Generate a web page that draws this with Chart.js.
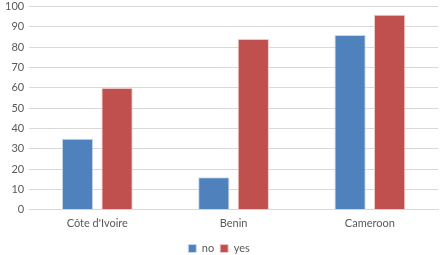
<!DOCTYPE html>
<html><head><meta charset="utf-8">
<script src="https://cdn.jsdelivr.net/npm/chart.js@4"></script>
<style>html,body{margin:0;padding:0;background:#fff;overflow:hidden}canvas{display:block;margin-top:-5px}</style>
</head><body>
<canvas id="c" width="440" height="269"></canvas>
<script>
const categories = ["Côte d'Ivoire", "Benin", "Cameroon"];
const noValues = [35, 16, 86];
const yesValues = [60, 84, 96];
const seriesNames = ["no", "yes"];

Chart.defaults.font.family = "Lato, 'Open Sans', sans-serif";
Chart.defaults.font.size = 11;
Chart.defaults.color = "#595959";

new Chart(document.getElementById('c'), {
  type: 'bar',
  data: {
    labels: categories,
    datasets: [
      {label: seriesNames[0], data: noValues, backgroundColor: '#4F81BD', borderColor: '#c9d8ec', borderWidth: 1},
      {label: seriesNames[1], data: yesValues, backgroundColor: '#C0504D', borderColor: '#ecc9c8', borderWidth: 1}
    ]
  },
  options: {
    responsive: false,
    animation: false,
    categoryPercentage: 0.58,
    barPercentage: 0.79,
    layout: {padding: {left: 0, right: 2, top: 0, bottom: 0}},
    plugins: {
      legend: {position: 'bottom', labels: {boxWidth: 8, boxHeight: 8, padding: 6}},
      tooltip: {enabled: false}
    },
    scales: {
      x: {
        grid: {display: false, drawTicks: false},
        border: {color: '#d9d9d9'},
        ticks: {padding: 7}
      },
      y: {
        min: 0, max: 100,
        ticks: {stepSize: 10, padding: 5},
        grid: {color: '#d9d9d9', drawTicks: false},
        border: {display: false}
      }
    }
  }
});
</script>
</body></html>
